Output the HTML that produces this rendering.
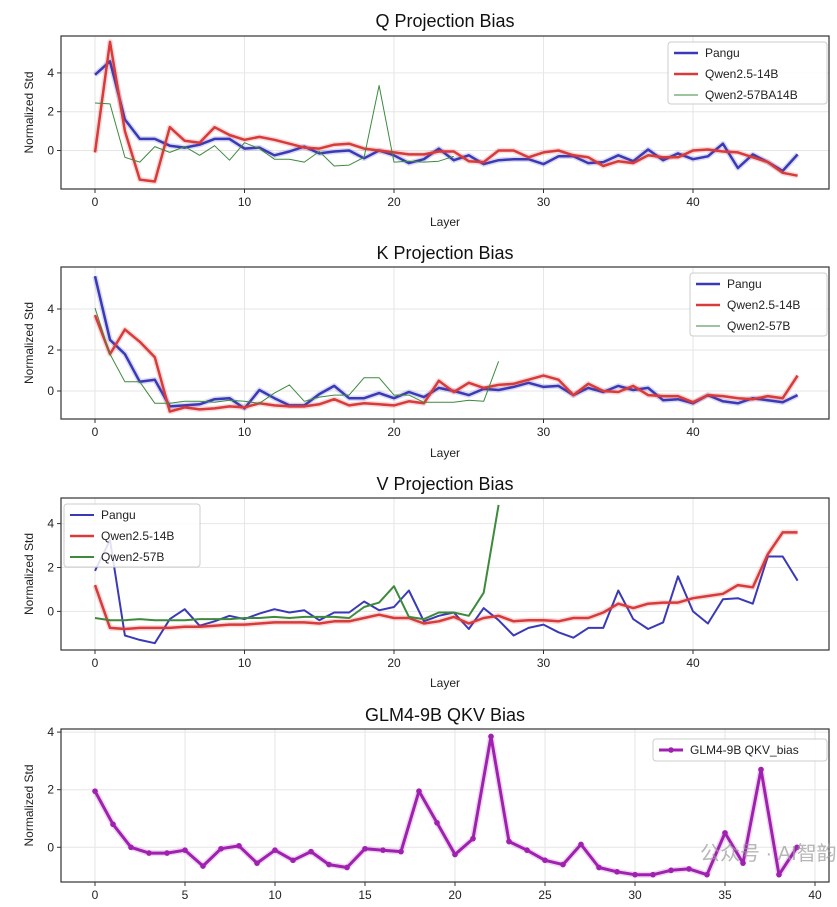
<!DOCTYPE html>
<html><head><meta charset="utf-8"><style>
body{margin:0;background:#fff;}
svg{display:block;font-family:"Liberation Sans","DejaVu Sans",sans-serif;}
</style></head><body>
<svg id="s" width="837" height="907" viewBox="0 0 837 907"></svg>
<script>
const layers48=[...Array(48).keys()];
const qPangu=[3.9,4.6,1.6,0.6,0.6,0.25,0.15,0.3,0.6,0.6,0.1,0.15,-0.25,-0.05,0.2,-0.15,-0.05,0,-0.4,0,-0.25,-0.65,-0.45,0.1,-0.5,-0.25,-0.7,-0.5,-0.45,-0.45,-0.7,-0.3,-0.3,-0.65,-0.6,-0.25,-0.55,0.05,-0.5,-0.15,-0.45,-0.3,0.35,-0.9,-0.2,-0.6,-1.05,-0.2];
const qQwen25=[-0.1,5.6,1.0,-1.5,-1.6,1.2,0.5,0.4,1.2,0.8,0.55,0.7,0.55,0.35,0.15,0.1,0.3,0.35,0.1,0,-0.1,-0.2,-0.2,-0.05,-0.05,-0.55,-0.6,0,0,-0.35,-0.1,0,-0.25,-0.35,-0.8,-0.55,-0.65,-0.25,-0.35,-0.35,0,0.05,-0.05,-0.1,-0.35,-0.6,-1.15,-1.3];
const qQwen2=[2.45,2.4,-0.35,-0.6,0.2,-0.1,0.2,-0.25,0.25,-0.5,0.4,0.1,-0.45,-0.45,-0.6,-0.05,-0.8,-0.75,-0.35,3.35,-0.6,-0.55,-0.6,-0.55,-0.3];
const kPangu=[5.6,2.5,1.8,0.45,0.55,-0.75,-0.7,-0.65,-0.4,-0.35,-0.85,0.05,-0.35,-0.7,-0.7,-0.15,0.25,-0.35,-0.35,-0.1,-0.35,-0.05,-0.3,0.15,0,-0.2,0.1,0.05,0.2,0.4,0.2,0.25,-0.2,0.15,-0.05,0.25,0.05,0.15,-0.45,-0.4,-0.6,-0.2,-0.5,-0.6,-0.35,-0.45,-0.55,-0.2];
const kQwen25=[3.7,1.8,3.0,2.4,1.65,-1.0,-0.8,-0.9,-0.85,-0.75,-0.8,-0.6,-0.7,-0.75,-0.75,-0.65,-0.4,-0.7,-0.6,-0.65,-0.7,-0.5,-0.6,0.5,-0.05,0.4,0.15,0.3,0.35,0.55,0.75,0.55,-0.2,0.35,0,-0.05,0.25,-0.2,-0.25,-0.25,-0.55,-0.2,-0.25,-0.35,-0.4,-0.25,-0.35,0.75];
const kQwen2=[4.05,1.8,0.45,0.45,-0.6,-0.6,-0.5,-0.5,-0.55,-0.45,-0.5,-0.6,-0.1,0.3,-0.5,-0.3,-0.2,-0.2,0.65,0.65,-0.2,-0.2,-0.55,-0.55,-0.55,-0.45,-0.5,1.45];
const vPangu=[1.85,3.25,-1.1,-1.3,-1.45,-0.35,0.1,-0.65,-0.45,-0.2,-0.35,-0.1,0.1,-0.05,0.05,-0.4,-0.05,-0.05,0.45,0.05,0.2,0.95,-0.45,-0.2,-0.05,-0.8,0.15,-0.4,-1.1,-0.75,-0.6,-0.95,-1.2,-0.75,-0.75,0.95,-0.35,-0.8,-0.5,1.6,0,-0.55,0.55,0.6,0.35,2.5,2.5,1.4];
const vQwen25=[1.2,-0.75,-0.8,-0.75,-0.75,-0.75,-0.7,-0.7,-0.65,-0.6,-0.6,-0.55,-0.5,-0.5,-0.5,-0.55,-0.45,-0.45,-0.3,-0.15,-0.3,-0.3,-0.55,-0.45,-0.25,-0.55,-0.3,-0.2,-0.45,-0.4,-0.4,-0.45,-0.3,-0.3,-0.05,0.35,0.15,0.35,0.4,0.4,0.6,0.7,0.8,1.2,1.1,2.6,3.6,3.6];
const vQwen2=[-0.3,-0.4,-0.4,-0.35,-0.4,-0.4,-0.4,-0.35,-0.35,-0.35,-0.3,-0.3,-0.25,-0.3,-0.25,-0.25,-0.25,-0.3,0.2,0.4,1.15,-0.25,-0.35,-0.05,-0.05,-0.2,0.85,4.85];
const glm=[1.95,0.8,0.0,-0.2,-0.2,-0.1,-0.65,-0.05,0.05,-0.55,-0.1,-0.45,-0.15,-0.6,-0.7,-0.05,-0.1,-0.15,1.95,0.85,-0.25,0.3,3.85,0.2,-0.1,-0.45,-0.6,0.1,-0.7,-0.85,-0.95,-0.95,-0.8,-0.75,-0.95,0.5,-0.55,2.7,-0.95,0];
const xTicks48=[0,10,20,30,40];
const xTicks40=[0,5,10,15,20,25,30,35,40];
const yTicksA=[0,2,4];

const S=document.getElementById('s');
const NS='http://www.w3.org/2000/svg';
function mk(tag,at,parent){const e=document.createElementNS(NS,tag);for(const k in at)e.setAttribute(k,at[k]);(parent||S).appendChild(e);return e;}
const BLUE='#3a3ab8',RED='#d93a3a',GREEN='#3d8a3d',MAG='#a020b0';

function panel(cfg){
  const g=mk('g',{});
  
  
  const L=61,R=829,T=cfg.top,B=cfg.bottom;
  const xs=v=>cfg.x0+(v-0)*cfg.xu;
  const ys=v=>cfg.y0-v*cfg.yu;
  const t=mk('text',{x:445,y:cfg.titleY,'text-anchor':'middle','font-size':18,fill:'#111'},g);
  t.textContent=cfg.title;
  
  
  cfg.xt.forEach(v=>{
    const gl=mk('line',{x1:xs(v),x2:xs(v),y1:T,y2:B,stroke:'#e6e6e6','stroke-width':1},g);
    
    mk('line',{x1:xs(v),x2:xs(v),y1:B,y2:B+4,stroke:'#333'},g);
    const tl=mk('text',{x:xs(v),y:B+17,'text-anchor':'middle','font-size':12,fill:'#222'},g);
    tl.textContent=v;
  });
  yTicksA.forEach(v=>{
    const gl=mk('line',{x1:L,x2:R,y1:ys(v),y2:ys(v),stroke:'#e6e6e6','stroke-width':1},g);
    
    mk('line',{x1:L-4,x2:L,y1:ys(v),y2:ys(v),stroke:'#333'},g);
    const tl=mk('text',{x:L-7,y:ys(v)+4,'text-anchor':'end','font-size':12,fill:'#222'},g);
    tl.textContent=v;
  });
  const yl=mk('text',{x:0,y:0,'text-anchor':'middle','font-size':12,fill:'#222',transform:`translate(33,${(T+B)/2}) rotate(-90)`},g);
  yl.textContent='Normalized Std';
  if(cfg.xlabel){const xl=mk('text',{x:445,y:cfg.xlabelY,'text-anchor':'middle','font-size':12,fill:'#222'},g);
    xl.textContent='Layer';}
  const clip=mk('clipPath',{id:'c'+cfg.name},g);mk('rect',{x:L,y:T,width:R-L,height:B-T},clip);
  cfg.series.forEach(s=>{
    const d=s.data.map((v,i)=>(i?'L':'M')+xs(i).toFixed(1)+' '+ys(v).toFixed(1)).join(' ');
    if(s.glow){mk('path',{d,fill:'none',stroke:s.color,'stroke-width':s.w+3,'stroke-opacity':0.18,'clip-path':`url(#c${cfg.name})`,'stroke-linejoin':'round'},g);}
    const p=mk('path',{d,fill:'none',stroke:s.color,'stroke-width':s.w,'clip-path':`url(#c${cfg.name})`,'stroke-linejoin':'round'},g);
    
    if(s.markers){s.data.forEach((v,i)=>{const c=mk('circle',{cx:xs(i),cy:ys(v),r:2.8,fill:s.color},g);
      });}
  });
  const fr=mk('rect',{x:L,y:T,width:R-L,height:B-T,fill:'none',stroke:'#333','stroke-width':1.2},g);
  
  const lg=cfg.legend;
  const lgG=mk('g',{},g);
  mk('rect',{x:lg.x,y:lg.y,width:lg.w,height:lg.h,fill:'#fff','fill-opacity':0.85,stroke:'#ccc',rx:3},lgG);
  cfg.series.forEach((s,i)=>{
    const yy=lg.y+11+i*21;
    mk('line',{x1:lg.x+6,x2:lg.x+30,y1:yy,y2:yy,stroke:s.color,'stroke-width':s.lw||s.w},lgG);
    if(s.markers)mk('circle',{cx:lg.x+18,cy:yy,r:2.8,fill:s.color},lgG);
    const tx=mk('text',{x:lg.x+37,y:yy+4,'font-size':12,fill:'#222'},lgG);
    tx.textContent=s.label;
  });
}
panel({name:'q-projection-chart',title:'Q Projection Bias',titleY:27,top:36,bottom:189,x0:95,xu:14.95,y0:150.5,yu:19.4,xt:xTicks48,xlabel:true,xlabelY:226,
  legend:{x:668,y:42,w:159,h:62},
  series:[{id:'q-pangu-line',label:'Pangu',data:qPangu,color:BLUE,w:2.5,glow:true},
          {id:'q-qwen25-line',label:'Qwen2.5-14B',data:qQwen25,color:RED,w:2.5,glow:true},
          {id:'q-qwen2-line',label:'Qwen2-57BA14B',data:qQwen2,color:GREEN,w:1}]});
panel({name:'k-projection-chart',title:'K Projection Bias',titleY:259,top:267,bottom:419,x0:95,xu:14.95,y0:391,yu:20.5,xt:xTicks48,xlabel:true,xlabelY:457,
  legend:{x:690,y:273,w:137,h:63},
  series:[{id:'k-pangu-line',label:'Pangu',data:kPangu,color:BLUE,w:2.5,glow:true},
          {id:'k-qwen25-line',label:'Qwen2.5-14B',data:kQwen25,color:RED,w:2.5,glow:true},
          {id:'k-qwen2-line',label:'Qwen2-57B',data:kQwen2,color:GREEN,w:1}]});
panel({name:'v-projection-chart',title:'V Projection Bias',titleY:490,top:498,bottom:650,x0:95,xu:14.95,y0:611.4,yu:21.95,xt:xTicks48,xlabel:true,xlabelY:687,
  legend:{x:64,y:504,w:136,h:63},
  series:[{id:'v-pangu-line',label:'Pangu',data:vPangu,color:BLUE,w:2},
          {id:'v-qwen25-line',label:'Qwen2.5-14B',data:vQwen25,color:RED,w:2.5,glow:true},
          {id:'v-qwen2-line',label:'Qwen2-57B',data:vQwen2,color:GREEN,w:2}]});
panel({name:'glm-qkv-chart',title:'GLM4-9B QKV Bias',titleY:721,top:729,bottom:882,x0:95,xu:18.0,y0:847.3,yu:28.8,xt:xTicks40,xlabel:false,
  legend:{x:653,y:739,w:174,h:22},
  series:[{id:'glm-qkv-line',label:'GLM4-9B QKV_bias',data:glm,color:MAG,w:3,glow:true,markers:true}]});
const wm=mk('text',{x:700,y:860,'font-size':20,fill:'#999','fill-opacity':0.7,'font-family':'"Liberation Sans","Noto Sans CJK SC",sans-serif'});
wm.textContent='公众号 · AI智韵';


</script>
</body></html>
